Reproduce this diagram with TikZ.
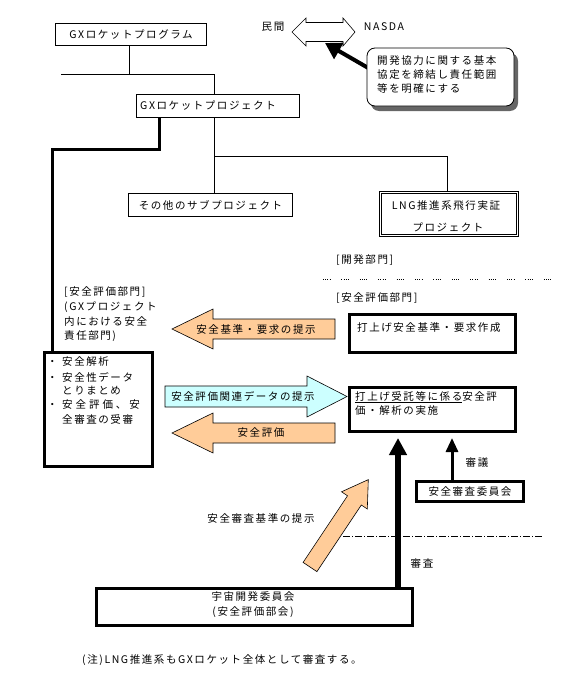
\documentclass[tikz,border=0pt]{standalone}
\usepackage{fontspec}
\setmainfont[LetterSpace=15]{Noto Sans CJK JP}
\usetikzlibrary{arrows.meta,shadows}
\definecolor{peach}{HTML}{FFCC99}
\definecolor{lcyan}{HTML}{CCFFFF}
\begin{document}
\begin{tikzpicture}[x=1pt,y=-1pt,
  font=\fontsize{10.5pt}{12pt}\selectfont,
  box/.style={draw, line width=0.8pt, fill=white, inner sep=0pt},
  heavybox/.style={draw, line width=2.6pt, fill=white, inner sep=0pt},
  lab/.style={inner sep=0pt},
  thinline/.style={line width=0.8pt},
  blockarrow/.style={draw, line width=0.6pt, line join=miter}]
\useasboundingbox (0,0) rectangle (573,677);

% ---------- top tree ----------
\node[box, minimum width=151pt, minimum height=22pt] (prog) at (131,34.5) {GXロケットプログラム};
\node[box, minimum width=163pt, minimum height=23pt] (proj) at (218,106) {};
\node[lab] (projt) at (208,106) {GXロケットプロジェクト};
\node[box, minimum width=164pt, minimum height=23pt] (other) at (210.5,205) {その他のサブプロジェクト};
\node[draw, double, double distance=1.4pt, line width=0.7pt, fill=white,
      minimum width=137pt, minimum height=43pt, inner sep=0pt] (lng) at (449,214) {};
\node[lab] (lngt1) at (446,206) {LNG推進系飛行実証};
\node[lab] (lngt2) at (448,227) {プロジェクト};

\coordinate (j1) at (129,74);
\coordinate (hl) at (61,74);
\coordinate (j2) at (214,74);
\draw[thinline] (prog.south -| j1) -- (j1);
\draw[thinline] (hl) -- (j2) -- (j2 |- proj.north);
\coordinate (j3) at (214,156);
\coordinate (j4) at (447,156);
\draw[thinline] (proj.south -| j3) -- (other.north -| j3);
\draw[thinline] (j3) -- (j4) -- (j4 |- lng.north);

% ---------- top right ----------
\node[lab] (minkan) at (273,27) {民間};
\node[lab] (nasda) at (384,27) {NASDA};
\draw[blockarrow, fill=white] (292,32) -- (306,18) -- (306,22.5) -- (343,22.5) -- (343,18) -- (355,32)
   -- (343,46) -- (343,41.5) -- (306,41.5) -- (306,46) -- cycle;
\coordinate (ptail) at (370,69);
\coordinate (ptip) at (325,43);
\draw[line width=4pt, -{Triangle[length=16pt,width=18pt]}] (ptail) -- (ptip);
\node[draw, line width=0.8pt, fill=white, rounded corners=8pt, minimum width=147pt, minimum height=58pt,
      inner sep=0pt, drop shadow={shadow xshift=4pt, shadow yshift=-5pt, fill=black!60, opacity=1}] (callout) at (440.5,77) {};
\node[lab, anchor=west] (c1) at (377,61) {開発協力に関する基本};
\node[lab, anchor=west] (c2) at (377,75) {協定を締結し責任範囲};
\node[lab, anchor=west] (c3) at (377,89) {等を明確にする};

% ---------- left side ----------
\node[heavybox, minimum width=108.4pt, minimum height=114.4pt] (left) at (98.5,409.5) {};
\coordinate (k1) at (159,149);
\coordinate (k2) at (52,149);
\draw[line width=3pt, line join=miter] (proj.south -| k1) -- (k1) -- (k2) -- (k2 |- left.north);
\node[lab, anchor=west] (l1) at (64,292) {[安全評価部門]};
\node[lab, anchor=west] (l2) at (64,307) {(GXプロジェクト};
\node[lab, anchor=west] (l3) at (64,322) {内における安全};
\node[lab, anchor=west] (l4) at (64,336) {責任部門)};
\node[lab, anchor=west] (b1) at (47,362) {\makebox[15pt][l]{・}安全解析};
\node[lab, anchor=west] (b2) at (47,377) {\makebox[15pt][l]{・}安全性データ};
\node[lab, anchor=west] (b3) at (47,391) {\hspace{15pt}とりまとめ};
\node[lab, anchor=west] (b4) at (47,405) {\makebox[15pt][l]{・}\addfontfeature{LetterSpace=28}安全評価、安};
\node[lab, anchor=west] (b5) at (47,419) {\hspace{15pt}全審査の受審};

% ---------- right side ----------
\node[lab, anchor=west] (dev) at (336,260) {[開発部門]};
\draw[line width=0.7pt, dash pattern=on 0.8pt off 1.4pt on 0.8pt off 1.4pt on 0.8pt off 1.4pt on 0.8pt off 11pt]
   (323,279) coordinate (dl1) -- (557,279) coordinate (dl2);
\node[lab, anchor=west] (safe) at (336,298) {[安全評価部門]};
\node[heavybox, minimum width=166.4pt, minimum height=38.4pt] (std) at (432.5,333.5) {};
\node[lab, anchor=west] (stdt) at (357,328) {打上げ安全基準・要求作成};
\node[heavybox, minimum width=166.4pt, minimum height=44.4pt] (eval) at (432.5,409.5) {};
\node[lab, anchor=west] (evt1) at (355,397) {\underline{打上げ受託等に係る}安全評};
\node[lab, anchor=west] (evt2) at (355,411) {価・解析の実施};

% ---------- block arrows ----------
\draw[blockarrow, fill=peach] (335,319) -- (213,319) -- (213,309) -- (172,329) -- (213,349) -- (213,339) -- (335,339) -- cycle;
\node[lab] (a1) at (256,329) {安全基準・要求の提示};
\draw[blockarrow, fill=lcyan] (165,386) -- (307,386) -- (307,376) -- (347,396.5) -- (307,417) -- (307,407) -- (165,407) -- cycle;
\node[lab] (a2) at (243,396.5) {安全評価関連データの提示};
\draw[blockarrow, fill=peach] (335,423) -- (213,423) -- (213,413) -- (172,433) -- (213,453) -- (213,443) -- (335,443) -- cycle;
\node[lab] (a3) at (261,433) {安全評価};

% ---------- bottom ----------
\node[heavybox, minimum width=107.4pt, minimum height=20.4pt] (review) at (470,491.5) {安全審査委員会};
\node[heavybox, minimum width=316.4pt, minimum height=37.4pt] (comm) at (254.5,607) {};
\node[lab] (cm1) at (253,597) {宇宙開発委員会};
\node[lab] (cm2) at (253,612) {(安全評価部会)};

\coordinate (bigtip) at (398,438);
\draw[line width=6pt, -{Triangle[length=17pt,width=17pt]}] (comm.north -| bigtip) -- (bigtip);
\coordinate (smtip) at (452,438);
\draw[line width=3pt, -{Triangle[length=14pt,width=12pt]}] (review.north -| smtip) -- (smtip);
\node[lab] (shingi) at (477,463) {審議};
\node[lab] (shinsa) at (422,563) {審査};

\draw[blockarrow, fill=peach] (303.1,562.4) -- (347.5,495.8) -- (341.5,491.8) -- (368.3,479.6)
   -- (367.3,509.0) -- (361.3,505.0) -- (316.9,571.6) -- cycle;
\node[lab] (a4) at (261,518) {安全審査基準の提示};
\draw[line width=0.7pt, dash pattern=on 7pt off 2pt on 1pt off 2pt] (343,536) coordinate (dd1) -- (543,536) coordinate (dd2);

\node[lab, anchor=west] (note) at (82,660) {(注)LNG推進系もGXロケット全体として審査する。};
\end{tikzpicture}
\end{document}
